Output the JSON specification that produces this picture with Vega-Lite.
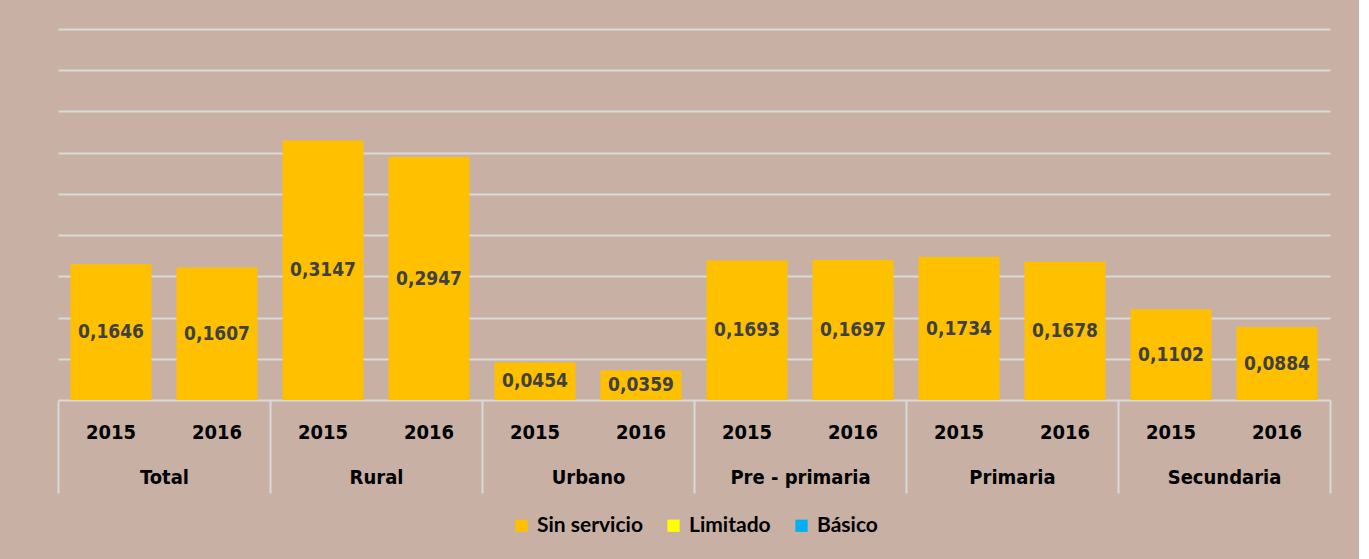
{
  "$schema": "https://vega.github.io/schema/vega-lite/v6.json",
  "background": "#C8B0A5",
  "padding": {"left": 57, "top": 29, "right": 28, "bottom": 23},
  "width": 1272,
  "height": 371,
  "data": {
    "values": [
      {"clave": "Total|2015", "categoria": "Total", "anio": "2015", "serie": "Sin servicio", "valor": 0.1646},
      {"clave": "Total|2016", "categoria": "Total", "anio": "2016", "serie": "Sin servicio", "valor": 0.1607},
      {"clave": "Rural|2015", "categoria": "Rural", "anio": "2015", "serie": "Sin servicio", "valor": 0.3147},
      {"clave": "Rural|2016", "categoria": "Rural", "anio": "2016", "serie": "Sin servicio", "valor": 0.2947},
      {"clave": "Urbano|2015", "categoria": "Urbano", "anio": "2015", "serie": "Sin servicio", "valor": 0.0454},
      {"clave": "Urbano|2016", "categoria": "Urbano", "anio": "2016", "serie": "Sin servicio", "valor": 0.0359},
      {"clave": "Pre - primaria|2015", "categoria": "Pre - primaria", "anio": "2015", "serie": "Sin servicio", "valor": 0.1693},
      {"clave": "Pre - primaria|2016", "categoria": "Pre - primaria", "anio": "2016", "serie": "Sin servicio", "valor": 0.1697},
      {"clave": "Primaria|2015", "categoria": "Primaria", "anio": "2015", "serie": "Sin servicio", "valor": 0.1734},
      {"clave": "Primaria|2016", "categoria": "Primaria", "anio": "2016", "serie": "Sin servicio", "valor": 0.1678},
      {"clave": "Secundaria|2015", "categoria": "Secundaria", "anio": "2015", "serie": "Sin servicio", "valor": 0.1102},
      {"clave": "Secundaria|2016", "categoria": "Secundaria", "anio": "2016", "serie": "Sin servicio", "valor": 0.0884}
    ]
  },
  "layer": [
    {
      "mark": {"type": "bar", "color": "#FFC000"},
      "encoding": {
        "x": {
          "field": "clave",
          "type": "nominal",
          "sort": null,
          "scale": {"paddingInner": 0.236, "paddingOuter": 0.118},
          "axis": {
            "title": null,
            "orient": "bottom",
            "labelAngle": 0,
            "labelExpr": "split(datum.label, '|')[1]",
            "labelFont": "DejaVu Sans Condensed, Liberation Sans, sans-serif",
            "labelFontWeight": "bold",
            "labelFontSize": 20,
            "labelColor": "#000000",
            "labelPadding": 22,
            "ticks": false,
            "domainColor": "#D9D9D9",
            "domainWidth": 2
          }
        },
        "y": {
          "field": "valor",
          "type": "quantitative",
          "scale": {"domain": [0, 0.45], "nice": false},
          "axis": {
            "title": null,
            "labels": false,
            "ticks": false,
            "domain": false,
            "grid": true,
            "gridColor": "#D9D9D9",
            "gridWidth": 2,
            "values": [0.05, 0.1, 0.15, 0.2, 0.25, 0.3, 0.35, 0.4, 0.45]
          }
        },
        "color": {
          "field": "serie",
          "type": "nominal",
          "scale": {"domain": ["Sin servicio", "Limitado", "Básico"], "range": ["#FFC000", "#FFFF00", "#00B0F0"]},
          "legend": {
            "title": null,
            "orient": "bottom",
            "direction": "horizontal",
            "offset": 21,
            "symbolType": "square",
            "symbolSize": 150,
            "symbolStrokeWidth": 0,
            "labelFont": "Lato",
            "labelFontWeight": "bold",
            "labelFontSize": 21,
            "labelColor": "#000000",
            "labelOffset": 5,
            "columnPadding": 20
          }
        }
      }
    },
    {
      "mark": {"type": "text", "baseline": "middle", "align": "center", "font": "DejaVu Sans Condensed, Liberation Sans, sans-serif", "fontWeight": "bold", "fontSize": 19, "color": "#404040"},
      "encoding": {
        "x": {
          "field": "clave",
          "type": "nominal",
          "sort": null,
          "scale": {"paddingInner": 0.236, "paddingOuter": 0.118},
          "axis": null
        },
        "y": {
          "field": "valor",
          "type": "quantitative",
          "scale": {"domain": [0, 0.9], "nice": false},
          "axis": null
        },
        "text": {"field": "valor", "type": "quantitative", "format": ".4f"}
      }
    },
    {
      "mark": {"type": "text", "text": "", "opacity": 0},
      "encoding": {
        "x": {
          "field": "categoria",
          "type": "nominal",
          "sort": null,
          "scale": {"paddingInner": 0, "paddingOuter": 0},
          "axis": {
            "title": null,
            "orient": "bottom",
            "labelAngle": 0,
            "labelFont": "DejaVu Sans Condensed, Liberation Sans, sans-serif",
            "labelFontWeight": "bold",
            "labelFontSize": 20,
            "labelColor": "#000000",
            "labelPadding": -26,
            "tickBand": "extent",
            "tickSize": 93,
            "tickWidth": 2,
            "tickColor": "#D9D9D9",
            "domain": false
          }
        }
      }
    }
  ],
  "resolve": {"scale": {"x": "independent", "y": "independent"}},
  "config": {
    "locale": {"number": {"decimal": ",", "thousands": ".", "grouping": [3], "currency": ["", " €"]}},
    "view": {"stroke": null},
    "legend": {"layout": {"bottom": {"anchor": "middle"}}}
  }
}
